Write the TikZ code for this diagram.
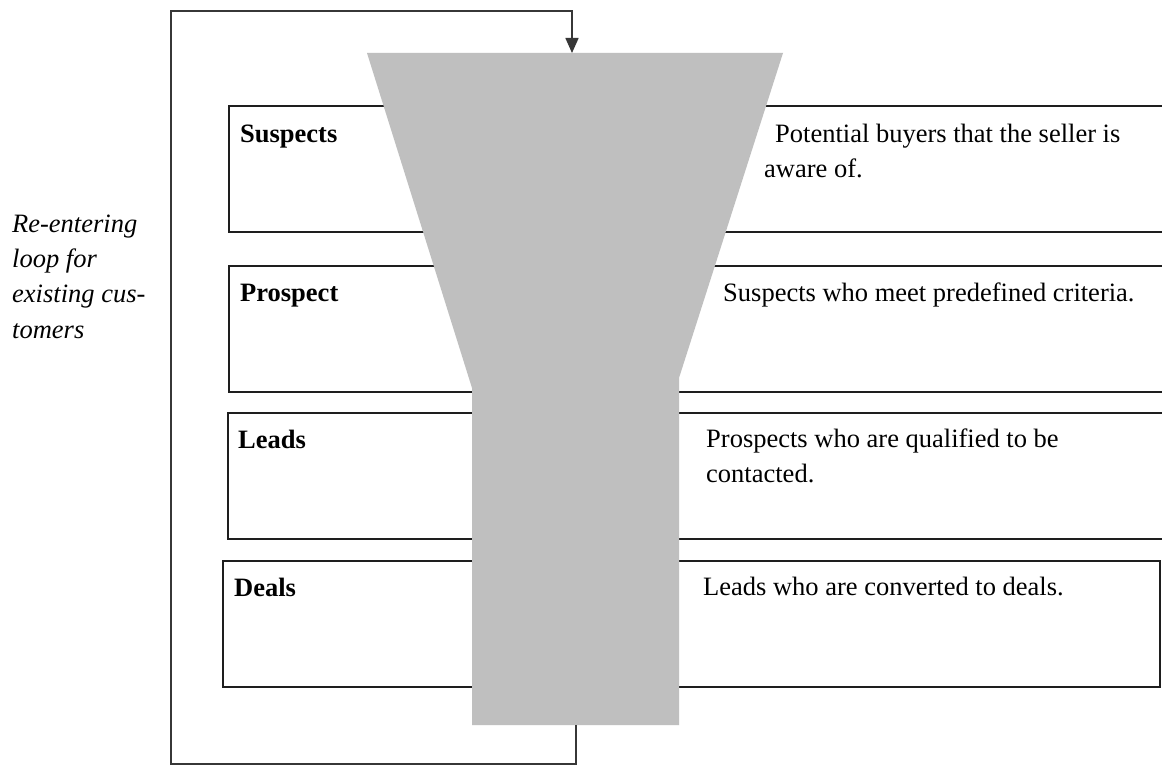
\documentclass[tikz,border=0pt]{standalone}
\usepackage{fontspec}
\setmainfont{Liberation Serif}
\usetikzlibrary{arrows.meta}
\definecolor{funnelgray}{RGB}{191,191,191}
\definecolor{loopgray}{RGB}{55,55,55}
\definecolor{boxline}{RGB}{30,30,30}
\begin{document}
\begin{tikzpicture}[x=1pt,y=-1pt,
  stagebox/.style={draw=boxline, line width=2pt, fill=white, anchor=north west, inner sep=0pt, outer sep=0pt},
  txt/.style={anchor=base west, inner sep=0pt, font=\fontsize{26.5}{35}\selectfont},
  head/.style={anchor=base west, inner sep=0pt, font=\fontsize{26.5}{35}\selectfont\bfseries},
  note/.style={anchor=base west, inner sep=0pt, font=\fontsize{26.5}{35}\selectfont\itshape},
  loopline/.style={draw=loopgray, line width=1.6pt},
]
\useasboundingbox (0,0) rectangle (1162,767);
\fill[white] (0,0) rectangle (1162,767);
% stage boxes
\node[stagebox, minimum width=960pt, minimum height=126pt] (suspects) at (229,106) {};
\node[stagebox, minimum width=960pt, minimum height=126pt] (prospect) at (229,266) {};
\node[stagebox, minimum width=960pt, minimum height=126pt] (leads) at (228,413) {};
\node[stagebox, minimum width=937pt, minimum height=126pt] (deals) at (223,561) {};
% funnel
\fill[funnelgray] (367,53) -- (783,53) -- (679,378) -- (679,725) -- (472,725) -- (472,388) -- cycle;
\coordinate (funneltop) at (572,53);
\coordinate (funnelbottom) at (576,725);
% texts
\node[head] (suspectsT) at (240,143) {Suspects};
\node[txt] (suspectsD1) at (775,143) {Potential buyers that the seller is};
\node[txt] (suspectsD2) at (764,178) {aware of.};
\node[head] (prospectT) at (240,302) {Prospect};
\node[txt] (prospectD) at (723,302) {Suspects who meet predefined criteria.};
\node[head] (leadsT) at (238,448) {Leads};
\node[txt] (leadsD1) at (706,447) {Prospects who are qualified to be};
\node[txt] (leadsD2) at (706,482) {contacted.};
\node[head] (dealsT) at (234,596) {Deals};
\node[txt] (dealsD) at (703,595) {Leads who are converted to deals.};
% loop note
\node[note] (note1) at (12,233) {Re-entering};
\node[note] (note2) at (12,268) {loop for};
\node[note] (note3) at (12,303) {existing cus-};
\node[note] (note4) at (12,338) {tomers};
% re-entering loop
\coordinate (loopbr) at (576,764);
\coordinate (loopbl) at (171,764);
\coordinate (looptl) at (171,11);
\coordinate (looptr) at (572,11);
\draw[loopline, -{Triangle[width=13pt,length=15pt]}] (funnelbottom) -- (loopbr) -- (loopbl) -- (looptl) -- (looptr) -- (funneltop);
\end{tikzpicture}
\end{document}
